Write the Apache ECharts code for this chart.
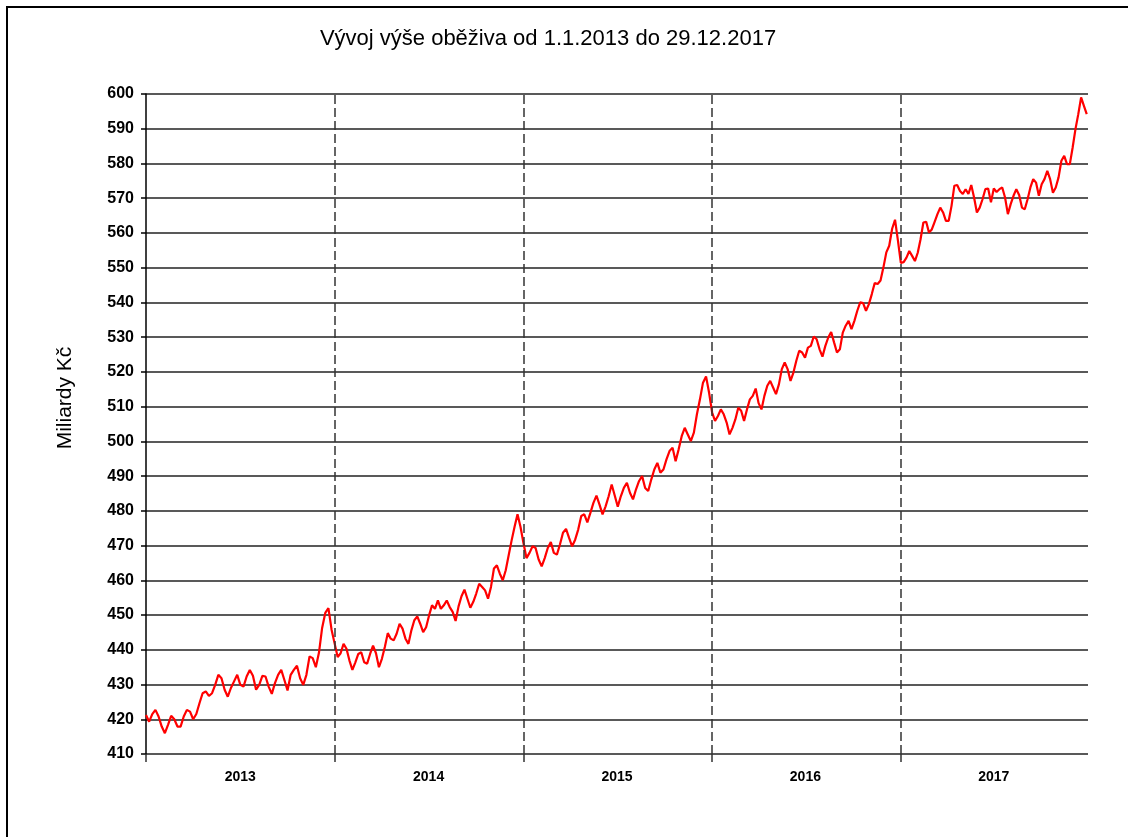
<!DOCTYPE html>
<html><head><meta charset="utf-8">
<script src="https://cdn.jsdelivr.net/npm/echarts@6/dist/echarts.min.js"></script>
<style>html,body{margin:0;padding:0;background:#fff}#c{width:1128px;height:837px}</style>
</head><body><div id="c"></div>
<script>
const chartTitle = 'Vývoj výše oběživa od 1.1.2013 do 29.12.2017';
const yAxisName = 'Miliardy Kč';
const years = ['2013', '2014', '2015', '2016', '2017'];
const yMin = 410, yMax = 600, yStep = 10;

// weekly-ish readings (billions CZK), evenly spread across each year
const v2013 = [421.2, 419.3, 421.5, 422.7, 420.8, 417.9, 416, 418.4, 421, 420, 417.9, 417.9, 420.8, 422.7, 422.2, 420, 421.5, 424.6, 427.5, 428, 426.7, 427.5, 429.9, 432.8, 431.8, 428.5, 426.5, 429, 430.9, 432.8, 429.9, 429.4, 432.3, 434.2, 432.5, 428.5, 429.9, 432.5, 432.3, 429.4, 427.3, 430.4, 432.8, 434.2, 431.3, 428.3, 432.8, 434.2, 435.4, 431.8, 429.9, 432.8, 438.1, 437.6, 435, 439.2, 446.3, 450.6, 452, 445.8];
const v2014 = [441.7, 437.9, 439, 441.7, 440.3, 436.9, 434.2, 436.4, 438.8, 439.3, 436.4, 436, 438.8, 441.2, 439, 435, 437.4, 440.8, 444.8, 443.2, 442.7, 444.6, 447.5, 446.1, 443.2, 441.7, 445.6, 448.5, 449.6, 447.5, 445.1, 446.5, 449.9, 452.8, 451.8, 454.2, 451.8, 452.8, 454.2, 452.3, 450.9, 448.3, 452.5, 455.4, 457.3, 454.7, 452.1, 453.8, 456.2, 459, 458.1, 457.1, 454.7, 458.1, 463.4, 464.3, 461.9, 460, 462.9, 467.2, 471.5, 475.4, 479, 475.4];
const v2015 = [470.8, 466.4, 467.9, 469.8, 469.3, 466, 464, 466.4, 469.3, 471, 467.9, 467.4, 470.3, 473.7, 474.8, 472.2, 469.8, 471.7, 474.6, 478.5, 479, 476.7, 479.4, 482.3, 484.4, 481.8, 479, 481.3, 484.2, 487.6, 484.4, 481.2, 484.2, 486.6, 488.1, 485.2, 483.3, 486.2, 488.6, 490, 486.6, 485.7, 489, 491.9, 493.8, 491, 491.9, 494.8, 497.2, 498.2, 494.3, 497.7, 501.5, 503.9, 502, 500.1, 502.5, 507.8, 512.1, 516.9, 518.7, 514];
const v2016 = [508.3, 505.9, 507.3, 509.2, 507.8, 505.4, 502, 503.9, 506.3, 509.7, 508.8, 505.9, 509.2, 512.1, 513.1, 515.2, 511, 509.2, 513.1, 516, 517.4, 515.5, 513.6, 516.4, 520.8, 522.7, 520.8, 517.4, 519.8, 523.2, 526.1, 525.6, 524.1, 527, 527.5, 530.2, 529.4, 526.5, 524.4, 527.5, 529.9, 531.5, 528.5, 525.6, 526.5, 531.3, 533.3, 534.7, 532.3, 534.7, 537.6, 540, 539.8, 537.6, 539.5, 542.4, 545.6, 545.3, 546.3, 550.1, 554.4, 556.3, 561.2, 563.8, 557.8];
const v2017 = [551.4, 551.6, 552.9, 554.8, 553.4, 551.9, 554.3, 558.2, 563, 563.2, 560.1, 561, 563.2, 565.4, 567.3, 565.9, 563.5, 563.5, 567.8, 573.6, 573.8, 572.1, 571.2, 572.6, 571.2, 573.8, 570.2, 565.9, 567.3, 569.7, 572.6, 572.8, 568.8, 572.8, 571.8, 572.6, 573.1, 570.2, 565.4, 568.3, 570.7, 572.6, 570.9, 567.3, 566.8, 569.7, 573.1, 575.5, 574.5, 570.7, 574, 575.5, 577.9, 575.5, 571.6, 573.1, 576, 580.8, 582.2, 579.8, 579.8, 584.6, 589.9, 594.2, 599, 596.6, 594.2];
const yearValues = [v2013, v2014, v2015, v2016, v2017];
const lastDayFraction = 362 / 365; // 29.12.2017

const yearStarts = years.map(Number);
const data = [];
yearValues.forEach((arr, k) => {
  arr.forEach((v, i) => data.push([yearStarts[k] + i / arr.length, v]));
});

const labelFamily = '"Liberation Sans", Arial';
const dashStyle = { color: '#333', width: 1.5, type: [9, 4] };

const chart = echarts.init(document.getElementById('c'));
chart.setOption({
  animation: false,
  backgroundColor: '#fff',
  graphic: [
    { type: 'rect', shape: { x: 7, y: 7, width: 1200, height: 900 }, style: { fill: 'none', stroke: '#000', lineWidth: 2 }, silent: true },
    { type: 'text', x: 548, y: 39, style: { text: chartTitle, font: '22px "Liberation Sans", Arial', fill: '#000', textAlign: 'center', textVerticalAlign: 'middle' } },
    { type: 'text', x: 65, y: 398, rotation: Math.PI / 2, style: { text: yAxisName, font: '21px "Liberation Sans", Arial', fill: '#000', textAlign: 'center', textVerticalAlign: 'middle' } }
  ],
  grid: { left: 146, right: 40, top: 94, bottom: 83, containLabel: false },
  xAxis: [
    {
      type: 'value', min: yearStarts[0], max: yearStarts[4] + lastDayFraction, interval: 1,
      axisLine: { show: false },
      axisTick: { show: true, length: 8, customValues: yearStarts, lineStyle: { color: '#333', width: 1.5 } },
      axisLabel: { show: false },
      splitLine: { show: false }
    },
    {
      type: 'category', data: years, boundaryGap: true, position: 'bottom',
      axisLine: { show: false }, axisTick: { show: false }, splitLine: { show: false },
      axisLabel: { margin: 16, fontFamily: labelFamily, fontWeight: 'bold', fontSize: 14, color: '#000' }
    }
  ],
  yAxis: {
    type: 'value', min: yMin, max: yMax, interval: yStep,
    axisLine: { show: true, lineStyle: { color: '#000', width: 1.5 } },
    axisTick: { show: true, length: 5, lineStyle: { color: '#000', width: 1.5 } },
    axisLabel: { margin: 12, fontFamily: labelFamily, fontWeight: 'bold', fontSize: 16, color: '#000' },
    splitLine: { show: true, lineStyle: { color: '#222', width: 1.5 } }
  },
  series: [{
    type: 'line', xAxisIndex: 0, data: data, showSymbol: false, symbol: 'none',
    lineStyle: { color: '#ff0000', width: 2.2 }, itemStyle: { color: '#ff0000' },
    markLine: {
      silent: true, symbol: 'none', label: { show: false }, lineStyle: dashStyle,
      data: yearStarts.slice(1).map(y => ({ xAxis: y }))
    },
    z: 3
  }]
});
</script>
</body></html>
